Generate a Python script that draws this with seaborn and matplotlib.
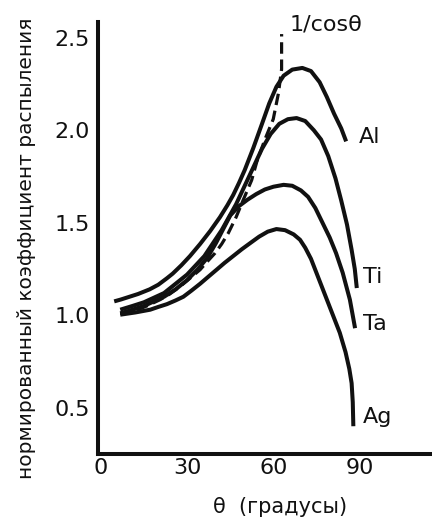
import numpy as np
import pandas as pd
import matplotlib
matplotlib.use("Agg")
import matplotlib.pyplot as plt
import seaborn as sns

# угол падения (градусы) и нормированный коэффициент распыления
al_theta = [4.7, 7, 10, 13, 17, 20, 23, 25, 28, 31, 34.5, 38, 41.4, 44, 46, 48, 50, 53, 56, 58.5,
            61, 63.5, 66.5, 70, 73, 76, 78.5, 81, 83.5, 85.2]
al_y = [1.075, 1.085, 1.10, 1.115, 1.14, 1.165, 1.20, 1.225, 1.27, 1.32, 1.385, 1.455, 1.53, 1.595, 1.65,
        1.715, 1.785, 1.905, 2.035, 2.145, 2.235, 2.295, 2.328, 2.337, 2.32, 2.26, 2.18, 2.09, 2.01, 1.94]

ti_theta = [6.8, 11, 15, 18.5, 22, 26, 30, 33, 36, 39, 42, 44.5, 47, 50, 53, 56, 59, 62, 65, 68,
            71, 74, 76.5, 79, 81.5, 83.5, 85.5, 87.1, 88.2, 88.9]
ti_y = [1.03, 1.05, 1.07, 1.095, 1.12, 1.17, 1.22, 1.27, 1.32, 1.39, 1.46, 1.53, 1.60, 1.70, 1.80,
        1.90, 1.98, 2.035, 2.06, 2.066, 2.05, 2.00, 1.95, 1.86, 1.74, 1.62, 1.49, 1.354, 1.25, 1.147]

ta_theta = [6.8, 11, 15, 18.5, 22, 26, 30, 33.5, 37, 40, 42, 45, 48, 51, 54, 57, 60, 63.5, 66.5,
            69.5, 72, 74.5, 77, 79.5, 81.7, 84, 86.5, 88.3]
ta_y = [1.01, 1.03, 1.05, 1.075, 1.10, 1.14, 1.19, 1.245, 1.31, 1.39, 1.45, 1.54, 1.59, 1.625, 1.655,
        1.68, 1.695, 1.705, 1.70, 1.675, 1.64, 1.58, 1.50, 1.42, 1.336, 1.23, 1.084, 0.93]

ag_theta = [6.8, 12, 17.2, 20, 23, 26, 28.7, 31.5, 34.5, 37.5, 40.3, 43, 46, 49, 51.9, 55, 58, 61,
            64, 67, 69.2, 71, 73, 75, 77, 79, 81, 83, 85, 86.3, 87.1, 87.5, 87.7]
ag_y = [1.003, 1.015, 1.03, 1.045, 1.06, 1.08, 1.10, 1.133, 1.17, 1.21, 1.247, 1.283, 1.32, 1.357, 1.39,
        1.425, 1.452, 1.466, 1.46, 1.437, 1.408, 1.365, 1.305, 1.225, 1.145, 1.065, 0.985, 0.905, 0.80,
        0.71, 0.633, 0.53, 0.40]

cos_theta = [6.8, 11.3, 16, 20.6, 24, 27.6, 31, 34.5, 37, 39.7, 42, 44.3, 47, 49.5, 52.4, 54.2, 57,
             59.9, 61.7, 62.8, 62.8]
cos_y = [1.01, 1.02, 1.05, 1.084, 1.115, 1.156, 1.20, 1.246, 1.29, 1.336, 1.385, 1.444, 1.53, 1.624,
         1.73, 1.83, 1.95, 2.06, 2.20, 2.33, 2.52]

curves = {"Al": (al_theta, al_y), "Ti": (ti_theta, ti_y), "Ta": (ta_theta, ta_y), "Ag": (ag_theta, ag_y)}
label_pos = {"Al": (89.7, 1.965), "Ti": (91, 1.208), "Ta": (91, 0.95), "Ag": (91, 0.45)}

sns.set_style("white")
plt.rcParams['font.family'] = ['DejaVu Sans']

fig = plt.figure(figsize=(4.32, 5.21), dpi=100)
ax = fig.add_axes([0.227, 0.129, 0.773, 0.829])

lw = 2.9
for name, (t, y) in curves.items():
    df = pd.DataFrame({"theta": t, "y": y})
    sns.lineplot(data=df, x="theta", y="y", ax=ax, color="#111111", lw=lw,
                 sort=False, estimator=None, solid_capstyle="butt", solid_joinstyle="round")
    ax.text(*label_pos[name], name, fontsize=16, ha="left", va="center", color="#111111")

df_cos = pd.DataFrame({"theta": cos_theta, "y": cos_y})
sns.lineplot(data=df_cos, x="theta", y="y", ax=ax, color="#111111", lw=2.3,
             sort=False, estimator=None, linestyle=(0, (3.6, 1.8)))
ax.text(65.4, 2.57, "1/cosθ", fontsize=16, ha="left", va="center", color="#111111")

ax.set_xlim(-0.9, 115)
ax.set_ylim(0.251, 2.586)
ax.set_xticks([0, 30, 60, 90])
ax.set_yticks([0.5, 1.0, 1.5, 2.0, 2.5])
ax.set_yticklabels(["0.5", "1.0", "1.5", "2.0", "2.5"])

for side in ["top", "right"]:
    ax.spines[side].set_visible(False)
for side in ["left", "bottom"]:
    ax.spines[side].set_linewidth(2.9)
    ax.spines[side].set_color("#111111")

ax.tick_params(axis="both", direction="in", length=12, width=2.9, color="#111111",
               labelsize=16, labelcolor="#111111")
ax.tick_params(axis="y", pad=6)
ax.tick_params(axis="x", pad=3)

ax.set_xlabel("θ  (градусы)", fontsize=15, color="#111111")
ax.set_ylabel("нормированный коэффициент распыления", fontsize=14.5, color="#111111")
ax.xaxis.set_label_coords(0.545, -0.1)
ax.yaxis.set_label_coords(-0.185, 0.477)

fig.savefig("out.png", dpi=100)
